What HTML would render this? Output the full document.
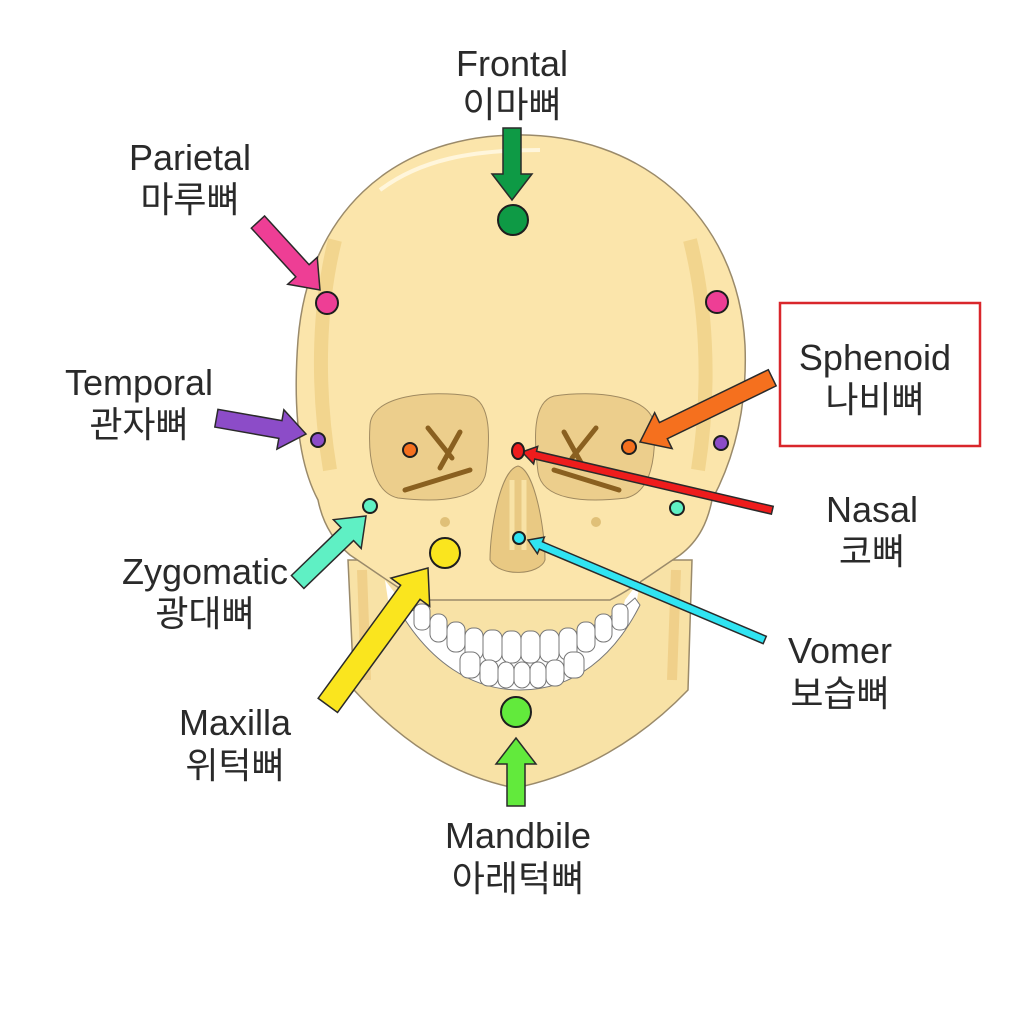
<!DOCTYPE html>
<html><head><meta charset="utf-8"><style>
html,body{margin:0;padding:0;background:#fff;}
svg text{font-family:"Liberation Sans","Noto Sans CJK KR",sans-serif;font-size:36px;fill:#2a2a2a;text-anchor:middle;}
</style></head><body>
<svg width="1024" height="1024" viewBox="0 0 1024 1024" xmlns="http://www.w3.org/2000/svg">
<rect width="1024" height="1024" fill="#fff"/>
<!-- jaw -->
<path d="M348,560 L354,690 C400,740 450,775 515,788 C580,775 640,740 688,690 L692,560 Z" fill="#f8e2a6" stroke="#9a8a6a" stroke-width="1.5"/>
<path d="M362,570 L366,680 M676,570 L672,680" stroke="#f0d08a" stroke-width="10" fill="none"/>
<!-- cranium + face -->
<path d="M512,135 C640,132 738,215 745,345 C748,420 728,470 712,500 C708,520 700,540 680,555 C650,575 630,590 610,600 L420,600 C400,590 380,575 350,555 C332,540 322,520 318,500 C302,470 292,420 298,340 C308,215 390,138 512,135Z" fill="#fbe5ab" stroke="#9a8a6a" stroke-width="1.5"/>
<path d="M385,580 L400,600 L405,620 L388,600Z M640,580 L625,600 L620,620 L637,600Z" fill="#fff"/>
<path d="M335,240 C320,300 315,380 330,470" fill="none" stroke="#f2d58e" stroke-width="14"/>
<path d="M690,240 C705,300 712,380 698,470" fill="none" stroke="#f2d58e" stroke-width="14"/>
<path d="M380,190 C420,160 470,150 540,150" fill="none" stroke="#fff6dc" stroke-width="4"/>
<!-- orbits -->
<path d="M370,425 C372,395 430,390 470,396 C492,402 490,440 486,472 C482,500 440,503 398,498 C372,492 368,455 370,425Z" fill="#ecce8c" stroke="#a08a60" stroke-width="1"/>
<path d="M654,425 C652,395 594,390 554,396 C532,402 534,440 538,472 C542,500 584,503 626,498 C652,492 656,455 654,425Z" fill="#ecce8c" stroke="#a08a60" stroke-width="1"/>
<path d="M428,428 L452,458 M460,432 L440,468 M405,490 L470,470" stroke="#8a6020" stroke-width="5" fill="none" stroke-linecap="round"/>
<path d="M596,428 L572,458 M564,432 L584,468 M619,490 L554,470" stroke="#8a6020" stroke-width="5" fill="none" stroke-linecap="round"/>
<!-- nose -->
<path d="M518,466 C535,470 545,530 545,560 C540,575 500,578 490,560 C490,530 500,470 518,466Z" fill="#e9c983" stroke="#a08a60" stroke-width="1"/>
<path d="M512,480 L512,550 M524,480 L524,550" stroke="#f8e2a6" stroke-width="5"/>
<circle cx="445" cy="522" r="5" fill="#e0c078"/><circle cx="596" cy="522" r="5" fill="#e0c078"/>
<!-- teeth -->
<path d="M402,615 C430,660 470,690 520,690 C575,690 615,655 640,605 L635,598 C600,630 560,640 520,640 C480,640 440,630 405,605Z" fill="#fff" stroke="#777" stroke-width="1"/>
<g fill="#fff" stroke="#777" stroke-width="1">
<rect x="465" y="628" width="18" height="32" rx="8"/><rect x="483" y="630" width="19" height="32" rx="8"/><rect x="502" y="631" width="19" height="32" rx="8"/><rect x="521" y="631" width="19" height="32" rx="8"/><rect x="540" y="630" width="19" height="32" rx="8"/><rect x="559" y="628" width="18" height="32" rx="8"/>
<rect x="447" y="622" width="18" height="30" rx="8"/><rect x="577" y="622" width="18" height="30" rx="8"/>
<rect x="430" y="614" width="17" height="28" rx="8"/><rect x="595" y="614" width="17" height="28" rx="8"/>
<rect x="414" y="604" width="16" height="26" rx="7"/><rect x="612" y="604" width="16" height="26" rx="7"/>
<rect x="480" y="660" width="18" height="26" rx="8"/><rect x="498" y="662" width="16" height="26" rx="8"/><rect x="514" y="662" width="16" height="26" rx="8"/><rect x="530" y="662" width="16" height="26" rx="8"/><rect x="546" y="660" width="18" height="26" rx="8"/>
<rect x="460" y="652" width="20" height="26" rx="8"/><rect x="564" y="652" width="20" height="26" rx="8"/>
</g>
<!-- arrows -->
<g stroke="#2a2a2a" stroke-width="1.5" stroke-linejoin="miter">
<polygon transform="translate(512,200) rotate(90)" points="-72,-9 -26,-9 -26,-20 0,0 -26,20 -26,9 -72,9" fill="#0e9a45"/>
<polygon transform="translate(320,290) rotate(47.6)" points="-92,-9 -26,-9 -26,-20 0,0 -26,20 -26,9 -92,9" fill="#ee3e95"/>
<polygon transform="translate(306,434) rotate(10)" points="-91,-9 -26,-9 -26,-20 0,0 -26,20 -26,9 -91,9" fill="#8c4cc8"/>
<polygon transform="translate(640,442) rotate(154.1)" points="-147,-9 -26,-9 -26,-20 0,0 -26,20 -26,9 -147,9" fill="#f5701e"/>
<polygon transform="translate(366,516) rotate(-44)" points="-95,-9 -26,-9 -26,-20 0,0 -26,20 -26,9 -95,9" fill="#5ff0c4"/>
<polygon transform="translate(428,568) rotate(-53.9)" points="-170,-12 -30,-12 -30,-24 0,0 -30,24 -30,12 -170,12" fill="#fae51e"/>
<polygon transform="translate(516,738) rotate(-90)" points="-68,-9 -26,-9 -26,-20 0,0 -26,20 -26,9 -68,9" fill="#62ea3c"/>
<polygon transform="translate(522,452) rotate(193.1)" points="-257,-4 -14,-4 -14,-9 0,0 -14,9 -14,4 -257,4" fill="#ee1c1c"/>
<polygon transform="translate(528,540) rotate(202.9)" points="-257,-4 -14,-4 -14,-9 0,0 -14,9 -14,4 -257,4" fill="#30e4f2"/>
</g>
<!-- dots -->
<g stroke="#1e1e1e" stroke-width="2">
<circle cx="513" cy="220" r="15" fill="#0e9a45"/>
<circle cx="327" cy="303" r="11" fill="#ee3e95"/><circle cx="717" cy="302" r="11" fill="#ee3e95"/>
<circle cx="318" cy="440" r="7" fill="#8c4cc8"/><circle cx="721" cy="443" r="7" fill="#8c4cc8"/>
<circle cx="410" cy="450" r="7" fill="#f5701e"/><circle cx="629" cy="447" r="7" fill="#f5701e"/>
<ellipse cx="518" cy="451" rx="6" ry="8" fill="#ee1c1c"/>
<circle cx="370" cy="506" r="7" fill="#5ff0c4"/><circle cx="677" cy="508" r="7" fill="#5ff0c4"/>
<circle cx="445" cy="553" r="15" fill="#fae51e"/>
<circle cx="519" cy="538" r="6" fill="#30e4f2"/>
<circle cx="516" cy="712" r="15" fill="#62ea3c"/>
</g>
<rect x="780" y="303" width="200" height="143" fill="none" stroke="#d9262b" stroke-width="2.5"/>
<!-- labels -->
<text x="512" y="76">Frontal</text><text x="512" y="117">이마뼈</text>
<text x="190" y="170">Parietal</text><text x="190" y="212">마루뼈</text>
<text x="139" y="395">Temporal</text><text x="139" y="437">관자뼈</text>
<text x="875" y="370">Sphenoid</text><text x="875" y="412">나비뼈</text>
<text x="872" y="522">Nasal</text><text x="872" y="564">코뼈</text>
<text x="205" y="584">Zygomatic</text><text x="205" y="626">광대뼈</text>
<text x="840" y="663">Vomer</text><text x="840" y="706">보습뼈</text>
<text x="235" y="735">Maxilla</text><text x="235" y="778">위턱뼈</text>
<text x="518" y="848">Mandbile</text><text x="518" y="891">아래턱뼈</text>
</svg>
</body></html>
